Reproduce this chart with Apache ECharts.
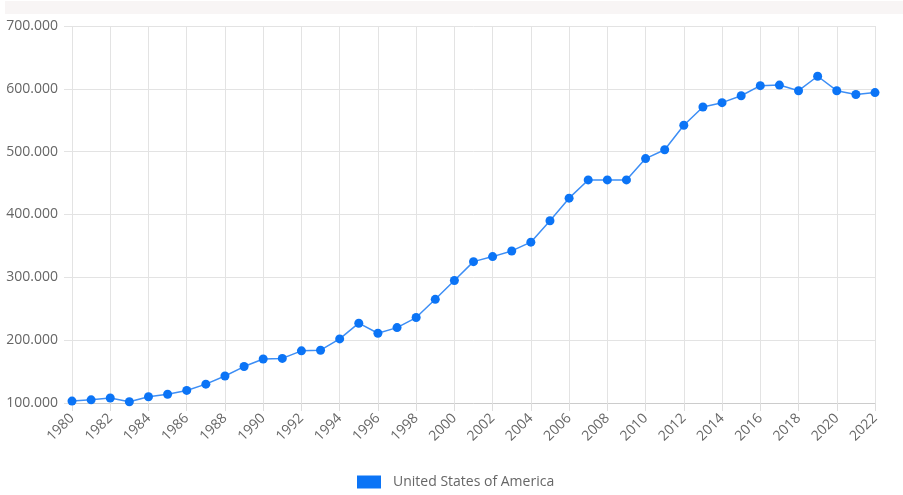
<!DOCTYPE html>
<html><head><meta charset="utf-8">
<script src="https://cdn.jsdelivr.net/npm/echarts@6/dist/echarts.min.js"></script>
<style>html,body{margin:0;padding:0;background:#fff}#c{width:903px;height:495px}</style>
</head><body><div id="c"></div>
<script>
const years = [];
for (let y = 1980; y <= 2022; y++) years.push(String(y));
const seriesName = 'United States of America';
const values = [103000,105000,108000,102000,110000,114000,120000,130000,143000,158000,
170000,171000,183000,184000,202000,227000,211000,220000,236000,265000,
295000,325000,333000,342000,356000,390000,426000,455000,455000,455000,
489000,503000,542000,571000,578000,589000,605000,606000,597000,620000,
597000,591000,594000];
const yTicks = {min:100000, max:700000, interval:100000};

function fmt(v){ return String(v).replace(/\B(?=(\d{3})+(?!\d))/g,'.'); }

const chart = echarts.init(document.getElementById('c'));
chart.setOption({
  animation:false,
  textStyle:{fontFamily:'Open Sans'},
  graphic:[{type:'rect',shape:{x:5,y:1,width:898,height:13},style:{fill:'#f8f5f5'},silent:true}],
  grid:{left:72,right:28,top:26,bottom:92},
  legend:{bottom:1,left:352,icon:'rect',itemWidth:24,itemHeight:13,itemGap:12,
    textStyle:{color:'#666',fontSize:14,fontFamily:'Open Sans',padding:[0,0,0,7]},data:[seriesName]},
  xAxis:{type:'category',data:years,boundaryGap:false,
    axisLine:{lineStyle:{color:'#ccc'}},
    axisTick:{show:true,interval:1,length:8,lineStyle:{color:'#ddd'}},
    axisLabel:{interval:1,rotate:45,color:'#666',fontSize:14,margin:13},
    splitLine:{show:true,interval:1,lineStyle:{color:'#e3e3e3'}}},
  yAxis:{type:'value',min:yTicks.min,max:yTicks.max,interval:yTicks.interval,
    axisLine:{show:false},
    axisTick:{show:true,length:8,lineStyle:{color:'#e3e3e3'}},
    axisLabel:{color:'#666',fontSize:14,margin:14,formatter:fmt},
    splitLine:{lineStyle:{color:'#e3e3e3'}}},
  series:[{name:seriesName,type:'line',data:values,symbol:'circle',symbolSize:9,
    itemStyle:{color:'#0b74f6'},lineStyle:{color:'#3d8ef5',width:1.5}}]
});
</script></body></html>
